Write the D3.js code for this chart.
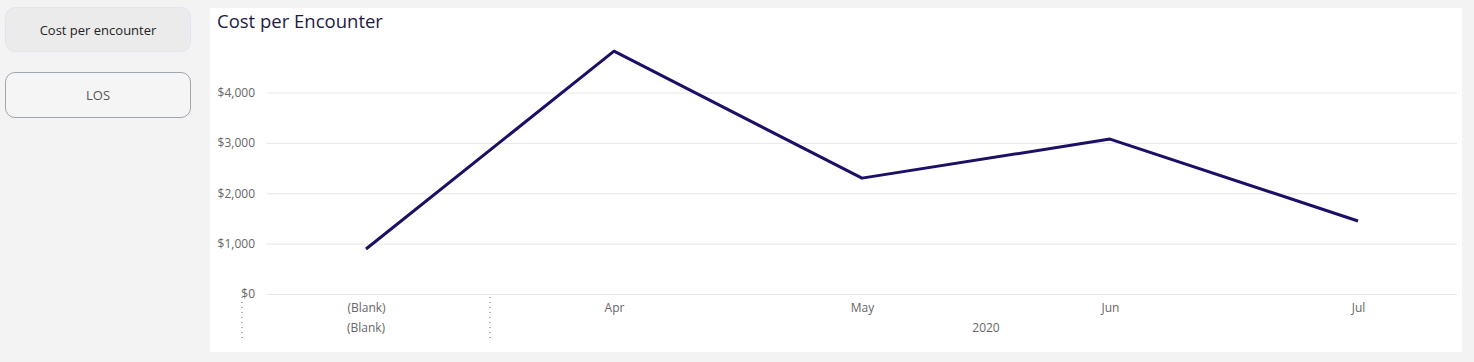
<!DOCTYPE html>
<meta charset="utf-8" />
<style>
    body {
        margin: 0;
        background: #f3f3f3;
        font-family: "Segoe UI", "Open Sans", sans-serif;
    }

    .btn {
        position: absolute;
        left: 5px;
        width: 186px;
        height: 45px;
        box-sizing: border-box;
        border-radius: 10px;
        font-size: 13px;
        display: flex;
        align-items: center;
        justify-content: center;
    }

    .btn.active {
        top: 7px;
        background: #ebebeb;
        border: 1px solid #e4e3f3;
        color: #252423;
    }

    .btn.off {
        top: 72px;
        height: 46px;
        background: #f5f5f5;
        border: 1px solid #a0a6b0;
        color: #555;
    }

    .panel {
        position: absolute;
        left: 210px;
        top: 8px;
        width: 1252px;
        height: 344px;
        background: #fff;
    }

    .tick text, .year {
        fill: #666;
        font-size: 12px;
        font-family: "Segoe UI", "Open Sans", sans-serif;
    }
</style>

<body>
    <div class="btn active">Cost per encounter</div>
    <div class="btn off">LOS</div>
    <div class="panel"></div>
    <svg id="chart" width="1474" height="362" style="position:absolute;left:0;top:0"></svg>
</body>
<script src="https://cdn.jsdelivr.net/npm/d3@7"></script>
<script>
    let months = ["(Blank)", "Apr", "May", "Jun", "Jul"];
    let years = ["(Blank)", "2020"];
    let cost = [893, 4820, 2300, 3075, 1450];
    let yTicks = [0, 1000, 2000, 3000, 4000];

    let svg = d3.select("#chart");

    let xScale = d3.scalePoint()
        .domain(months)
        .range([366, 1358]);

    let yScale = d3.scaleLinear()
        .domain([0, 4000])
        .range([294, 92.5]);

    svg.append("text")
        .attr("x", 217)
        .attr("y", 28)
        .style("font-size", "18.5px")
        .style("font-family", "'Segoe UI', 'Open Sans', sans-serif")
        .style("fill", "#1f1a44")
        .text("Cost per Encounter");

    // gridlines + y labels
    let yAxis = svg.append("g")
        .attr("transform", "translate(267,0)")
        .call(d3.axisLeft(yScale)
            .tickValues(yTicks)
            .tickSize(-1190)
            .tickPadding(12)
            .tickFormat(function(d) {
                return "$" + d3.format(",")(d);
            }));
    yAxis.select(".domain").remove();
    yAxis.selectAll(".tick line").attr("stroke", "#e6e6e6");

    // x axis labels
    let xAxis = svg.append("g")
        .attr("transform", "translate(0,294)")
        .call(d3.axisBottom(xScale).tickSize(0).tickPadding(9));
    xAxis.select(".domain").remove();

    let step = xScale.step();
    let yearPos = [xScale("(Blank)"), (xScale("Apr") + xScale("Jul")) / 2];
    svg.selectAll(".year")
        .data(years)
        .enter().append("text")
        .attr("class", "year")
        .attr("x", function(d, i) { return yearPos[i]; })
        .attr("y", 332)
        .attr("text-anchor", "middle")
        .text(function(d) { return d; });

    // dotted separators
    let seps = [xScale("(Blank)") - step / 2, xScale("Apr") - step / 2];
    svg.selectAll(".sep")
        .data(seps)
        .enter().append("line")
        .attr("x1", function(d) { return d; })
        .attr("x2", function(d) { return d; })
        .attr("y1", 297)
        .attr("y2", 340)
        .attr("stroke", "#666")
        .attr("stroke-width", 1)
        .attr("stroke-dasharray", "1,4");

    let line = d3.line()
        .x(function(d, i) { return xScale(months[i]); })
        .y(function(d) { return yScale(d); });

    svg.append("path")
        .datum(cost)
        .attr("d", line)
        .attr("fill", "none")
        .attr("stroke", "#1b0f66")
        .attr("stroke-width", 3)
        .attr("stroke-linejoin", "round");
</script>
